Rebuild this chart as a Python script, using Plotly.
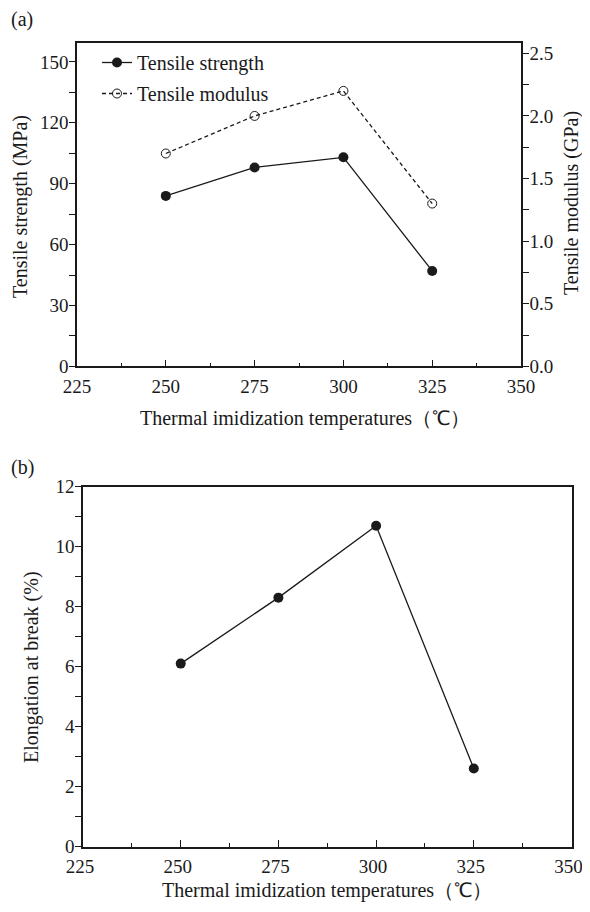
import plotly.graph_objects as go

temps = [250, 275, 300, 325]
tensile_strength = [84, 98, 103, 47]
tensile_modulus = [1.7, 2.0, 2.2, 1.3]
elongation = [6.1, 8.3, 10.7, 2.6]

x_ticks = [225, 250, 275, 300, 325, 350]
ts_ticks = [0, 30, 60, 90, 120, 150]
tm_ticks = [0.0, 0.5, 1.0, 1.5, 2.0, 2.5]
el_ticks = [0, 2, 4, 6, 8, 10, 12]

# page has an 8px body margin, so the figure is offset by 8px and sized to fit
OFF = 8
W, H = 574, 896
FONT = "Liberation Serif, Times New Roman, serif"
INK = "#1a1a1a"

def px_x(p):
    return (p - OFF) / W

def px_y(p):
    return 1 - (p - OFF) / H

fig = go.Figure()

fig.add_trace(go.Scatter(
    x=temps, y=tensile_strength, name="Tensile strength", legendgroup="s",
    mode="lines+markers", xaxis="x", yaxis="y",
    line=dict(color=INK, width=1.3),
    marker=dict(symbol="circle", size=10, color=INK),
))
fig.add_trace(go.Scatter(
    x=temps, y=tensile_modulus, name="Tensile modulus", legendgroup="m",
    mode="lines+markers", xaxis="x", yaxis="y2",
    line=dict(color=INK, width=1.3, dash="4px,3px"),
    marker=dict(symbol="circle-open", size=9, color=INK, line=dict(width=1)),
))
fig.add_trace(go.Scatter(
    x=temps, y=elongation, name="Elongation",
    mode="lines+markers", xaxis="x2", yaxis="y3", showlegend=False,
    line=dict(color=INK, width=1.3),
    marker=dict(symbol="circle", size=10, color=INK),
))

tickfont = dict(family=FONT, size=19, color=INK)
titlefont = dict(family=FONT, size=20, color=INK)

def xax(domain, anchor, **kw):
    d = dict(
        domain=domain, anchor=anchor, range=[225, 350], automargin=False,
        tickvals=x_ticks, ticks="inside", ticklen=7, tickwidth=1.2, tickcolor=INK,
        minor=dict(ticks="inside", ticklen=4, tickwidth=1.2, tickcolor=INK, dtick=12.5, tick0=225),
        showline=True, linecolor=INK, linewidth=1.5, mirror=True,
        showgrid=False, zeroline=False, tickfont=tickfont, ticklabeloverflow="allow",
        ticklabelstandoff=2,
    )
    d.update(kw)
    return d

def yax(domain, anchor, rng, ticks, dminor, **kw):
    d = dict(
        domain=domain, anchor=anchor, range=rng, automargin=False,
        tickvals=ticks, ticks="outside", ticklen=6, tickwidth=1.2, tickcolor=INK,
        minor=dict(ticks="outside", ticklen=6, tickwidth=1.2, tickcolor=INK, dtick=dminor),
        showline=True, linecolor=INK, linewidth=1.5,
        showgrid=False, zeroline=False, tickfont=tickfont, ticklabelstandoff=-3,
    )
    d.update(kw)
    return d

def title_ann(text, x, y, angle=0):
    return dict(text=text, x=px_x(x), y=px_y(y), xref="paper", yref="paper",
                xanchor="center", yanchor="middle", showarrow=False, textangle=angle,
                font=titlefont)

fig.update_layout(
    width=W, height=H,
    margin=dict(l=0, r=0, t=0, b=0),
    paper_bgcolor="white", plot_bgcolor="white",
    font=dict(family=FONT, color=INK),
    xaxis=xax([px_x(77), px_x(521)], "y"),
    xaxis2=xax([px_x(83), px_x(571.5)], "y3", ticklabelshift=-3),
    yaxis=yax([px_y(366.3), px_y(42.7)], "x", [0, 159.5], ts_ticks, 15),
    yaxis2=yax([px_y(366.3), px_y(42.7)], "x", [0, 2.585], tm_ticks, 0.25,
               overlaying="y", side="right",
               ticktext=[f"{v:.1f}" for v in tm_ticks]),
    yaxis3=yax([px_y(846.5), px_y(486.7)], "x2", [0, 12], el_ticks, 1, mirror=True),
    legend=dict(
        x=px_x(97), y=px_y(43), xanchor="left", yanchor="top",
        bgcolor="rgba(0,0,0,0)", font=dict(family=FONT, size=20, color=INK),
        tracegroupgap=2, itemwidth=30, traceorder="grouped",
    ),
    annotations=[
        dict(text="(a)", x=px_x(9), y=px_y(20), xref="paper", yref="paper",
             xanchor="left", yanchor="middle", showarrow=False,
             font=dict(family=FONT, size=20, color=INK)),
        dict(text="(b)", x=px_x(9), y=px_y(468), xref="paper", yref="paper",
             xanchor="left", yanchor="middle", showarrow=False,
             font=dict(family=FONT, size=20, color=INK)),
        title_ann("Tensile strength (MPa)", 20, 207, -90),
        title_ann("Tensile modulus (GPa)", 571, 203, -90),
        title_ann("Elongation at break (%)", 31, 667, -90),
        title_ann("Thermal imidization temperatures（℃）", 305, 418),
        title_ann("Thermal imidization temperatures（℃）", 327, 890),
    ],
)

fig.write_html("out.html")
